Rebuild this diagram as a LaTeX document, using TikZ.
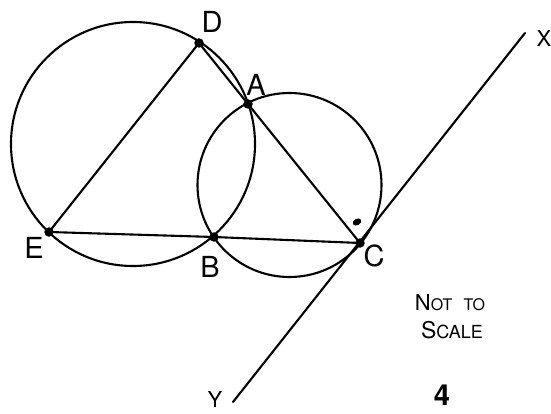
\documentclass[tikz,border=0pt]{standalone}
\usepackage{fontspec}
\setmainfont{TeX Gyre Heros}
\begin{document}
\begin{tikzpicture}[x=1pt,y=-1pt,
  line width=2.1pt, line cap=round, line join=round,
  dot/.style={circle,fill=black,inner sep=0pt,minimum size=9.5pt},
  lbl/.style={font=\fontsize{29}{32}\selectfont},
  small/.style={font=\fontsize{22}{24}\selectfont}]
\useasboundingbox (0,0) rectangle (551,414);
% circles
\coordinate (O1) at (133,144);
\coordinate (O2) at (289.5,185);
\draw (O1) circle[radius=122];
\draw (O2) circle[radius=92];
% points
\node[dot] (D) at (199,43) {};
\node[dot] (A) at (248,104) {};
\node[dot] (E) at (49,232) {};
\node[dot] (B) at (214,237) {};
\node[dot] (C) at (360,243) {};
\coordinate (X) at (525,33);
\coordinate (Y) at (233,402);
% lines
\draw (D.center) -- (E.center);
\draw (D.center) -- (A.center) -- (C.center);
\draw (E.center) -- (B.center) -- (C.center);
\draw (X) -- (Y);
% angle mark
\fill[rotate around={30:(357,222)}] (357,222) ellipse[x radius=4.5pt,y radius=3.2pt];
% labels
\node[lbl] (lD) at (212,22) {D};
\node[lbl] (lA) at (256,85) {A};
\node[lbl] (lE) at (34,248) {E};
\node[lbl] (lB) at (210,267) {B};
\node[lbl] (lC) at (374,256) {C};
\node[small] (lX) at (544,38) {X};
\node[small] (lY) at (215,399) {Y};
\node (nts1) at (450,303) {\fontsize{22}{24}\selectfont N\fontsize{16}{18}\selectfont OT\hspace{0.7em}TO};
\node (nts2) at (452,330) {\fontsize{23}{24}\selectfont S\fontsize{18}{20}\selectfont CALE};
\node[font=\fontsize{29}{32}\selectfont\bfseries] (n4) at (442,395) {4};
\end{tikzpicture}
\end{document}
